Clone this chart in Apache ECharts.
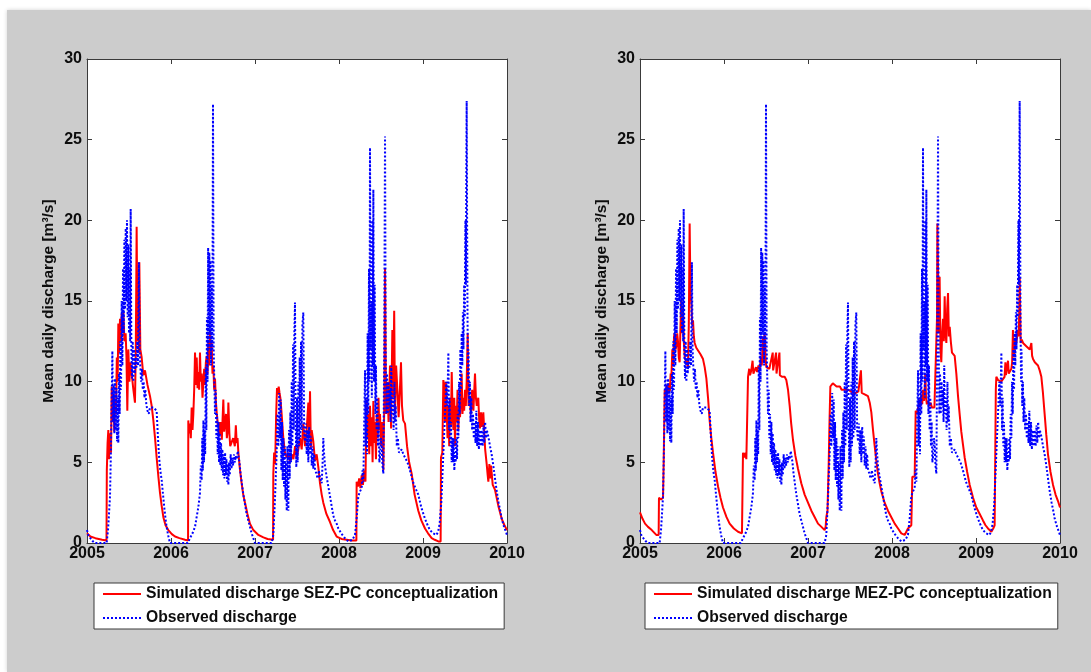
<!DOCTYPE html>
<html>
<head>
<meta charset="utf-8">
<script src="https://cdn.jsdelivr.net/npm/echarts@6/dist/echarts.min.js"></script>
<style>
html,body{margin:0;padding:0;background:#ffffff;width:1091px;height:672px;overflow:hidden;}
#bg{position:absolute;left:7px;top:10px;right:0;bottom:0;background:#cccccc;box-shadow:0 0 4px rgba(0,0,0,0.18);}
#chart{position:absolute;left:0;top:0;width:1091px;height:672px;}
</style>
</head>
<body>
<div id="bg"></div>
<div id="chart"></div>
<script>
// ---------- tick labels ----------
const yearTicks = [2005, 2006, 2007, 2008, 2009, 2010];
const dischargeTicks = [0, 5, 10, 15, 20, 25, 30];
const yAxisTitle = 'Mean daily discharge [m\u00b3/s]';
const nameSEZ = 'Simulated discharge SEZ-PC conceptualization';
const nameMEZ = 'Simulated discharge MEZ-PC conceptualization';
const nameObs = 'Observed discharge';

// ---------- observed discharge [decimal year, m3/s] ----------
const obs2005 = [[2005.000,0.8],[2005.015,0.5],[2005.040,0.3],[2005.070,0.1],[2005.095,0.0],[2005.150,0.0],[2005.234,0.0],[2005.250,0.8],[2005.262,1.8],[2005.274,2.9],[2005.284,5.5],[2005.294,9.0],[2005.302,11.9],[2005.310,7.5],[2005.318,9.8],[2005.326,6.8],[2005.334,10.2],[2005.342,7.0],[2005.350,9.6],[2005.358,6.3],[2005.366,9.0],[2005.373,6.2],[2005.381,10.5],[2005.389,8.0],[2005.397,12.5],[2005.405,9.5],[2005.413,15.0],[2005.421,11.0],[2005.429,17.0],[2005.437,13.0],[2005.445,18.8],[2005.453,14.5],[2005.461,19.5],[2005.469,15.0],[2005.476,20.0],[2005.484,14.0],[2005.492,18.5],[2005.500,13.0],[2005.508,17.0],[2005.514,12.5],[2005.520,20.7],[2005.528,12.0],[2005.536,10.2],[2005.544,12.5],[2005.552,10.0],[2005.560,12.0],[2005.568,10.5],[2005.578,11.5],[2005.588,10.8],[2005.598,12.5],[2005.608,11.0],[2005.618,17.4],[2005.626,12.0],[2005.634,11.0],[2005.644,10.0],[2005.654,10.8],[2005.664,9.5],[2005.674,10.0],[2005.684,9.0],[2005.694,9.5],[2005.706,8.6],[2005.720,8.2],[2005.735,8.0],[2005.750,8.4],[2005.770,8.5],[2005.790,8.4],[2005.810,8.5],[2005.829,8.2],[2005.845,6.5],[2005.860,5.2],[2005.875,4.4],[2005.889,3.9],[2005.905,3.0],[2005.920,2.2],[2005.935,1.5],[2005.948,1.0],[2005.965,0.5],[2005.988,0.0]];
const obs2006 = [[2006.100,0.0],[2006.200,0.0],[2006.226,0.3],[2006.256,0.6],[2006.286,1.0],[2006.305,1.6],[2006.325,2.2],[2006.345,3.1],[2006.355,4.8],[2006.365,3.9],[2006.372,6.5],[2006.379,4.5],[2006.386,7.6],[2006.393,5.0],[2006.400,7.0],[2006.407,5.5],[2006.414,10.9],[2006.421,7.0],[2006.428,14.0],[2006.435,10.0],[2006.442,18.3],[2006.449,12.0],[2006.456,18.0],[2006.463,13.0],[2006.470,17.5],[2006.477,11.0],[2006.485,16.0],[2006.492,12.0],[2006.500,27.2],[2006.508,12.0],[2006.516,10.0],[2006.524,8.0],[2006.532,9.5],[2006.540,6.5],[2006.548,8.0],[2006.556,5.5],[2006.564,7.5],[2006.572,5.0],[2006.580,6.8],[2006.588,4.8],[2006.596,6.2],[2006.604,4.5],[2006.612,5.8],[2006.620,4.2],[2006.628,5.5],[2006.636,4.0],[2006.644,5.6],[2006.652,4.2],[2006.660,5.2],[2006.668,3.8],[2006.676,4.9],[2006.683,3.6],[2006.692,5.0],[2006.700,4.2],[2006.710,5.5],[2006.720,4.6],[2006.730,5.3],[2006.740,4.8],[2006.750,5.5],[2006.760,5.0],[2006.770,5.4],[2006.782,5.2],[2006.795,5.7],[2006.802,5.8],[2006.815,5.0],[2006.828,4.3],[2006.841,3.8],[2006.861,3.0],[2006.881,2.4],[2006.900,1.8],[2006.920,1.4],[2006.940,1.0],[2006.960,0.6],[2006.980,0.3],[2007.000,0.0]];
const obs2007 = [[2007.100,0.0],[2007.198,0.0],[2007.218,0.5],[2007.238,2.7],[2007.250,4.5],[2007.258,5.5],[2007.268,8.0],[2007.278,6.0],[2007.288,9.3],[2007.298,6.5],[2007.306,8.9],[2007.314,4.5],[2007.322,7.5],[2007.330,3.9],[2007.338,6.5],[2007.346,3.5],[2007.354,6.0],[2007.362,2.7],[2007.370,5.0],[2007.378,2.0],[2007.386,6.0],[2007.397,2.0],[2007.405,7.0],[2007.413,4.0],[2007.421,8.1],[2007.429,5.0],[2007.437,10.0],[2007.445,6.0],[2007.453,12.3],[2007.461,7.0],[2007.468,13.0],[2007.476,14.9],[2007.484,8.0],[2007.492,4.7],[2007.500,9.0],[2007.508,5.0],[2007.516,10.0],[2007.524,6.0],[2007.532,11.5],[2007.540,6.5],[2007.548,12.5],[2007.556,7.0],[2007.564,13.5],[2007.575,14.3],[2007.585,7.0],[2007.595,6.3],[2007.605,7.4],[2007.615,5.5],[2007.625,7.0],[2007.635,5.0],[2007.645,7.2],[2007.655,5.5],[2007.665,6.6],[2007.675,4.8],[2007.685,6.0],[2007.694,4.6],[2007.704,5.5],[2007.714,4.6],[2007.730,4.3],[2007.745,4.0],[2007.760,4.5],[2007.775,4.0],[2007.794,3.7],[2007.805,5.0],[2007.813,6.5],[2007.823,5.5],[2007.833,4.8],[2007.853,4.1],[2007.873,3.5],[2007.893,2.9],[2007.912,2.3],[2007.932,1.7],[2007.952,1.4],[2007.972,1.2],[2007.992,0.9],[2008.012,0.8]];
const obs2008 = [[2008.040,0.5],[2008.071,0.3],[2008.111,0.1],[2008.131,0.0],[2008.160,0.2],[2008.190,0.5],[2008.210,1.5],[2008.230,2.9],[2008.250,3.2],[2008.270,3.4],[2008.280,4.5],[2008.290,3.8],[2008.300,7.5],[2008.310,10.7],[2008.318,6.0],[2008.325,9.0],[2008.333,5.5],[2008.341,13.0],[2008.349,8.0],[2008.357,17.0],[2008.363,10.0],[2008.369,24.5],[2008.377,12.0],[2008.385,15.0],[2008.391,9.0],[2008.397,20.0],[2008.403,11.0],[2008.409,21.9],[2008.417,10.0],[2008.425,16.0],[2008.433,8.0],[2008.440,11.0],[2008.448,7.0],[2008.456,9.0],[2008.464,6.0],[2008.472,7.5],[2008.480,5.0],[2008.488,5.3],[2008.500,6.5],[2008.508,6.0],[2008.518,4.8],[2008.528,4.3],[2008.538,12.0],[2008.548,25.2],[2008.556,12.0],[2008.564,8.0],[2008.572,10.5],[2008.580,8.0],[2008.590,10.0],[2008.598,8.5],[2008.606,9.5],[2008.614,7.5],[2008.622,11.0],[2008.630,8.0],[2008.640,9.0],[2008.650,7.0],[2008.660,10.0],[2008.668,7.5],[2008.675,8.5],[2008.688,6.0],[2008.700,6.5],[2008.714,5.6],[2008.730,5.7],[2008.746,5.8],[2008.766,5.5],[2008.786,5.5],[2008.815,5.0],[2008.845,4.5],[2008.880,3.8],[2008.910,3.4],[2008.944,3.0],[2008.980,2.2]];
const obs2009 = [[2009.024,1.5],[2009.055,1.1],[2009.083,0.8],[2009.120,0.6],[2009.159,0.5],[2009.180,0.7],[2009.198,1.2],[2009.218,2.5],[2009.238,5.0],[2009.258,7.5],[2009.278,10.0],[2009.290,8.5],[2009.302,11.8],[2009.310,7.0],[2009.317,9.0],[2009.325,6.0],[2009.333,7.5],[2009.341,5.0],[2009.350,6.5],[2009.357,5.0],[2009.365,6.5],[2009.373,4.5],[2009.381,5.5],[2009.389,5.0],[2009.397,6.5],[2009.405,5.2],[2009.413,8.0],[2009.421,6.5],[2009.429,10.0],[2009.437,8.0],[2009.445,12.0],[2009.453,9.5],[2009.460,13.0],[2009.468,11.0],[2009.475,14.3],[2009.482,12.0],[2009.490,16.0],[2009.497,14.0],[2009.505,20.0],[2009.510,16.0],[2009.515,22.0],[2009.520,27.4],[2009.525,20.0],[2009.530,14.0],[2009.536,10.0],[2009.542,12.0],[2009.550,8.5],[2009.558,10.0],[2009.566,7.5],[2009.575,9.0],[2009.585,7.0],[2009.595,8.0],[2009.605,6.5],[2009.615,7.5],[2009.625,6.2],[2009.635,8.2],[2009.645,6.0],[2009.655,7.5],[2009.665,5.8],[2009.675,7.0],[2009.685,6.0],[2009.698,7.0],[2009.710,6.0],[2009.720,7.3],[2009.730,6.2],[2009.740,7.5],[2009.750,6.5],[2009.760,7.0],[2009.778,6.6],[2009.798,6.0],[2009.817,5.5],[2009.837,4.8],[2009.857,4.0],[2009.878,3.2],[2009.900,2.5],[2009.920,2.0],[2009.937,1.5],[2009.965,1.0],[2010.000,0.5]];

// ---------- simulated discharge, SEZ-PC ----------
const sez2005 = [[2005.000,0.6],[2005.040,0.4],[2005.100,0.3],[2005.180,0.2],[2005.232,0.15],[2005.236,4.5],[2005.245,6.2],[2005.254,7.0],[2005.262,5.2],[2005.272,6.8],[2005.286,5.6],[2005.294,9.7],[2005.305,7.5],[2005.315,9.2],[2005.325,6.9],[2005.335,8.8],[2005.345,8.0],[2005.355,11.5],[2005.365,10.0],[2005.373,13.6],[2005.383,11.8],[2005.393,13.9],[2005.403,12.5],[2005.413,14.2],[2005.423,13.0],[2005.433,14.3],[2005.445,12.5],[2005.460,13.0],[2005.470,11.5],[2005.480,8.2],[2005.492,12.0],[2005.505,10.0],[2005.518,11.2],[2005.532,10.5],[2005.550,9.6],[2005.571,8.7],[2005.581,12.0],[2005.591,19.6],[2005.601,12.5],[2005.611,14.0],[2005.617,11.8],[2005.623,17.4],[2005.635,12.0],[2005.651,11.5],[2005.670,10.4],[2005.690,10.7],[2005.720,9.8],[2005.750,9.1],[2005.770,8.5],[2005.790,7.6],[2005.810,6.5],[2005.829,5.3],[2005.850,4.1],[2005.869,3.1],[2005.889,2.3],[2005.909,1.6],[2005.935,1.1],[2005.968,0.8],[2006.010,0.55],[2006.048,0.4],[2006.100,0.3],[2006.167,0.2],[2006.203,0.15]];
const sez2006 = [[2006.206,7.6],[2006.216,6.8],[2006.226,7.4],[2006.236,6.5],[2006.246,8.4],[2006.256,7.0],[2006.266,8.0],[2006.276,9.5],[2006.286,11.8],[2006.296,9.8],[2006.306,11.5],[2006.316,9.6],[2006.325,10.6],[2006.335,9.5],[2006.345,11.8],[2006.355,10.0],[2006.365,10.5],[2006.375,9.0],[2006.385,9.1],[2006.395,10.8],[2006.405,9.8],[2006.415,11.2],[2006.425,11.6],[2006.435,10.5],[2006.445,12.5],[2006.455,11.0],[2006.464,13.2],[2006.474,11.5],[2006.484,12.5],[2006.494,10.5],[2006.504,11.0],[2006.514,9.5],[2006.524,10.2],[2006.534,8.8],[2006.544,8.1],[2006.560,7.2],[2006.575,7.5],[2006.583,6.7],[2006.595,7.5],[2006.605,6.4],[2006.615,7.8],[2006.623,8.9],[2006.633,6.9],[2006.643,6.9],[2006.655,8.0],[2006.665,6.5],[2006.675,7.0],[2006.683,8.7],[2006.695,6.8],[2006.705,6.0],[2006.722,6.1],[2006.740,6.5],[2006.760,6.0],[2006.772,7.3],[2006.782,6.2],[2006.792,6.5],[2006.802,5.6],[2006.820,4.6],[2006.841,3.7],[2006.860,3.0],[2006.881,2.5],[2006.910,1.8],[2006.940,1.2],[2006.980,0.8],[2007.040,0.5],[2007.100,0.35],[2007.150,0.25],[2007.215,0.2]];
const sez2007 = [[2007.218,4.3],[2007.228,5.6],[2007.240,4.9],[2007.252,8.0],[2007.262,9.6],[2007.272,9.2],[2007.282,9.7],[2007.292,9.3],[2007.302,9.0],[2007.317,8.0],[2007.337,6.5],[2007.357,5.6],[2007.377,5.3],[2007.397,5.6],[2007.417,5.0],[2007.437,5.5],[2007.457,5.2],[2007.477,6.0],[2007.497,5.3],[2007.516,5.8],[2007.536,6.5],[2007.556,5.8],[2007.575,7.4],[2007.595,6.0],[2007.615,7.0],[2007.635,8.7],[2007.645,6.5],[2007.655,9.4],[2007.665,5.9],[2007.675,7.0],[2007.694,6.3],[2007.714,5.1],[2007.734,5.5],[2007.754,4.7],[2007.774,3.7],[2007.794,3.0],[2007.813,2.5],[2007.850,1.8],[2007.893,1.3],[2007.930,0.8],[2007.972,0.4],[2008.030,0.25],[2008.092,0.2],[2008.150,0.15],[2008.207,0.15]];
const sez2008 = [[2008.210,3.8],[2008.225,3.5],[2008.240,4.0],[2008.255,3.4],[2008.270,4.2],[2008.285,3.6],[2008.300,4.5],[2008.315,3.8],[2008.329,8.9],[2008.340,6.5],[2008.350,8.0],[2008.360,5.5],[2008.369,8.5],[2008.380,6.0],[2008.390,7.8],[2008.400,5.0],[2008.409,8.8],[2008.420,6.2],[2008.430,7.5],[2008.440,5.2],[2008.450,8.0],[2008.460,6.5],[2008.470,9.0],[2008.480,7.0],[2008.488,8.0],[2008.500,6.0],[2008.515,7.5],[2008.528,4.5],[2008.540,9.0],[2008.548,17.0],[2008.560,8.0],[2008.575,10.0],[2008.590,7.5],[2008.607,11.0],[2008.620,7.1],[2008.635,13.2],[2008.645,9.0],[2008.657,14.4],[2008.667,8.0],[2008.680,11.0],[2008.695,9.5],[2008.710,7.8],[2008.725,9.5],[2008.738,11.2],[2008.750,8.5],[2008.765,7.6],[2008.786,7.4],[2008.810,6.0],[2008.835,5.0],[2008.865,4.3],[2008.900,3.0],[2008.944,2.0],[2008.980,1.4],[2009.024,0.9],[2009.060,0.6],[2009.103,0.3],[2009.140,0.2],[2009.183,0.1],[2009.210,0.1]];
const sez2009 = [[2009.214,5.3],[2009.230,5.6],[2009.242,10.1],[2009.252,9.8],[2009.262,7.5],[2009.272,10.0],[2009.282,8.2],[2009.292,6.5],[2009.302,8.5],[2009.312,6.0],[2009.322,9.0],[2009.332,7.2],[2009.342,10.6],[2009.352,8.0],[2009.362,7.0],[2009.372,9.0],[2009.381,6.0],[2009.391,8.5],[2009.401,7.5],[2009.411,9.5],[2009.421,7.0],[2009.431,8.5],[2009.441,7.8],[2009.451,9.2],[2009.460,10.5],[2009.470,8.0],[2009.480,9.0],[2009.490,8.2],[2009.500,9.5],[2009.510,8.5],[2009.520,10.0],[2009.532,13.0],[2009.542,8.5],[2009.555,9.0],[2009.570,8.0],[2009.585,9.5],[2009.600,8.2],[2009.619,10.5],[2009.630,9.0],[2009.640,8.5],[2009.658,9.0],[2009.670,7.5],[2009.678,7.1],[2009.690,8.1],[2009.700,7.2],[2009.718,8.1],[2009.740,5.8],[2009.758,4.9],[2009.770,4.2],[2009.778,3.8],[2009.790,4.9],[2009.800,4.0],[2009.810,4.8],[2009.830,3.6],[2009.857,3.3],[2009.897,2.3],[2009.937,1.5],[2009.970,1.1],[2010.000,0.8]];

// ---------- simulated discharge, MEZ-PC ----------
const mez2005 = [[2005.000,1.9],[2005.030,1.5],[2005.060,1.2],[2005.095,1.0],[2005.140,0.8],[2005.194,0.5],[2005.222,0.5],[2005.226,2.8],[2005.250,2.7],[2005.274,2.8],[2005.282,5.0],[2005.294,9.5],[2005.305,9.0],[2005.315,9.8],[2005.325,9.2],[2005.333,9.3],[2005.345,9.9],[2005.355,9.4],[2005.365,10.5],[2005.373,10.2],[2005.385,12.0],[2005.395,11.0],[2005.405,12.8],[2005.413,13.0],[2005.423,12.0],[2005.433,12.2],[2005.443,13.0],[2005.452,12.5],[2005.462,11.5],[2005.472,11.2],[2005.482,13.5],[2005.492,15.1],[2005.502,13.0],[2005.512,14.5],[2005.522,12.5],[2005.532,11.5],[2005.552,11.2],[2005.571,10.9],[2005.581,13.5],[2005.591,19.8],[2005.601,15.5],[2005.611,14.8],[2005.621,13.5],[2005.631,13.8],[2005.641,12.8],[2005.651,12.4],[2005.670,12.1],[2005.690,12.0],[2005.720,11.7],[2005.750,11.4],[2005.770,10.9],[2005.790,10.2],[2005.810,9.0],[2005.829,7.6],[2005.849,6.5],[2005.869,5.6],[2005.899,4.4],[2005.929,3.5],[2005.958,2.8],[2005.988,2.2],[2006.030,1.6],[2006.067,1.2],[2006.117,0.9],[2006.167,0.7],[2006.214,0.6]];
const mez2006 = [[2006.226,5.6],[2006.240,5.3],[2006.255,5.6],[2006.266,5.2],[2006.286,10.3],[2006.300,10.8],[2006.310,10.4],[2006.325,10.7],[2006.340,11.3],[2006.350,10.5],[2006.365,10.5],[2006.380,10.9],[2006.395,10.6],[2006.410,11.0],[2006.425,10.8],[2006.440,11.5],[2006.450,11.0],[2006.464,12.8],[2006.474,11.2],[2006.484,13.0],[2006.494,11.5],[2006.504,10.9],[2006.520,11.0],[2006.540,10.8],[2006.563,10.8],[2006.580,11.8],[2006.585,10.7],[2006.600,10.6],[2006.620,11.8],[2006.625,10.5],[2006.643,10.5],[2006.660,11.8],[2006.665,10.4],[2006.690,10.3],[2006.722,10.3],[2006.742,10.1],[2006.762,9.5],[2006.782,8.5],[2006.800,7.4],[2006.821,6.4],[2006.850,5.4],[2006.881,4.6],[2006.920,3.7],[2006.960,3.0],[2007.000,2.5],[2007.040,2.0],[2007.080,1.6],[2007.119,1.2],[2007.160,1.0],[2007.198,0.8],[2007.210,1.0],[2007.218,1.6],[2007.232,2.0]];
const mez2007 = [[2007.246,4.8],[2007.256,7.5],[2007.266,9.7],[2007.280,9.6],[2007.295,9.9],[2007.317,9.9],[2007.340,9.7],[2007.360,9.6],[2007.380,9.7],[2007.400,9.5],[2007.437,9.5],[2007.476,9.5],[2007.510,9.4],[2007.540,9.3],[2007.570,9.3],[2007.600,9.4],[2007.620,9.3],[2007.630,10.7],[2007.640,9.3],[2007.680,9.2],[2007.714,9.1],[2007.735,8.7],[2007.754,8.1],[2007.774,7.0],[2007.794,6.0],[2007.813,5.1],[2007.833,4.3],[2007.853,3.7],[2007.873,3.2],[2007.912,2.5],[2007.952,2.0],[2007.992,1.6],[2008.032,1.2],[2008.072,0.9],[2008.111,0.6],[2008.151,0.5],[2008.170,0.6],[2008.190,0.9],[2008.230,1.1],[2008.238,1.1]];
const mez2008 = [[2008.242,4.1],[2008.270,4.1],[2008.278,4.2],[2008.282,8.2],[2008.296,8.0],[2008.310,8.1],[2008.320,8.6],[2008.329,8.9],[2008.340,8.5],[2008.350,9.2],[2008.360,8.6],[2008.369,9.5],[2008.380,8.8],[2008.390,9.6],[2008.397,10.5],[2008.405,9.0],[2008.415,8.6],[2008.429,8.8],[2008.445,8.5],[2008.460,8.7],[2008.475,8.4],[2008.488,8.5],[2008.505,8.4],[2008.528,8.3],[2008.536,14.0],[2008.540,19.8],[2008.548,17.0],[2008.556,13.0],[2008.567,16.5],[2008.577,12.0],[2008.587,11.2],[2008.597,13.0],[2008.607,13.9],[2008.617,12.5],[2008.627,15.3],[2008.637,13.0],[2008.647,12.4],[2008.657,14.5],[2008.667,15.5],[2008.677,12.8],[2008.687,13.4],[2008.700,12.5],[2008.714,11.8],[2008.730,11.9],[2008.746,11.6],[2008.766,10.5],[2008.786,9.1],[2008.805,8.0],[2008.825,6.9],[2008.845,6.1],[2008.865,5.3],[2008.895,4.4],[2008.925,3.6],[2008.965,2.8],[2009.004,2.2],[2009.044,1.8],[2009.083,1.4],[2009.113,1.1],[2009.143,0.9],[2009.183,0.7],[2009.205,0.9],[2009.222,1.1]];
const mez2009 = [[2009.236,9.5],[2009.242,10.3],[2009.262,10.1],[2009.282,10.1],[2009.300,10.0],[2009.321,10.0],[2009.340,10.3],[2009.350,11.2],[2009.356,10.4],[2009.361,10.5],[2009.381,11.3],[2009.390,10.5],[2009.401,10.5],[2009.421,10.8],[2009.430,11.2],[2009.440,13.2],[2009.450,11.5],[2009.460,12.0],[2009.470,12.6],[2009.480,12.4],[2009.490,12.8],[2009.500,13.2],[2009.510,12.8],[2009.520,16.5],[2009.532,12.4],[2009.545,12.6],[2009.560,12.4],[2009.580,12.3],[2009.599,12.2],[2009.620,12.3],[2009.640,12.0],[2009.659,12.4],[2009.668,11.6],[2009.679,11.4],[2009.700,11.2],[2009.720,11.1],[2009.738,11.0],[2009.758,10.7],[2009.778,10.3],[2009.797,9.3],[2009.817,8.0],[2009.837,6.7],[2009.857,5.5],[2009.887,4.4],[2009.917,3.6],[2009.947,3.0],[2009.976,2.6],[2010.000,2.2]];

const observed = [].concat(obs2005, obs2006, obs2007, obs2008, obs2009);
const simulatedSEZ = [].concat(sez2005, sez2006, sez2007, sez2008, sez2009);
const simulatedMEZ = [].concat(mez2005, mez2006, mez2007, mez2008, mez2009);

// ---------- styling ----------
const FONT = '"Liberation Sans", Arial, Helvetica, sans-serif';
const INK = '#0d0d0d';
const BOX = '#3a3a3a';
const grids = [
  {left: 87, top: 59, width: 420, height: 484},
  {left: 640, top: 59, width: 420, height: 484}
];

function xAx(gi, pos) {
  const main = pos === 'bottom';
  return {
    type: 'value', gridIndex: gi, position: pos,
    min: yearTicks[0], max: yearTicks[yearTicks.length - 1], interval: 1,
    axisLine: {show: true, onZero: false, lineStyle: {color: BOX, width: 1}},
    axisTick: {show: true, inside: true, length: 5, lineStyle: {color: BOX, width: 1}},
    splitLine: {show: false},
    axisLabel: {
      show: main, margin: 3, color: INK, fontFamily: FONT, fontWeight: 'bold', fontSize: 16,
      formatter: v => (yearTicks.indexOf(v) >= 0 ? String(v) : '')
    }
  };
}
function yAx(gi, pos) {
  const main = pos === 'left';
  return {
    type: 'value', gridIndex: gi, position: pos,
    min: dischargeTicks[0], max: dischargeTicks[dischargeTicks.length - 1], interval: 5,
    name: main ? yAxisTitle : '', nameLocation: 'middle', nameGap: 30,
    nameTextStyle: {color: INK, fontFamily: FONT, fontWeight: 'bold', fontSize: 15.5},
    axisLine: {show: true, onZero: false, lineStyle: {color: BOX, width: 1}},
    axisTick: {show: true, inside: true, length: 5, lineStyle: {color: BOX, width: 1}},
    splitLine: {show: false},
    axisLabel: {
      show: main, margin: 5, color: INK, fontFamily: FONT, fontWeight: 'bold', fontSize: 16,
      formatter: v => (dischargeTicks.indexOf(v) >= 0 ? String(v) : '')
    }
  };
}
function legendAt(left, names) {
  return {
    left: left, top: 583, orient: 'vertical', selectedMode: false,
    itemWidth: 38, itemHeight: 14, itemGap: 6,
    padding: [2, 6, 2, 8],
    backgroundColor: '#ffffff', borderColor: BOX, borderWidth: 1,
    itemStyle: {opacity: 0, borderWidth: 0},
    textStyle: {color: INK, fontFamily: FONT, fontWeight: 'bold', fontSize: 15.7, lineHeight: 18},
    data: names
  };
}
const redStyle = {color: '#ff0000', width: 2, type: 'solid'};
const blueStyle = {color: '#0000ff', width: 2, type: [2, 2], cap: 'butt'};

const chart = echarts.init(document.getElementById('chart'), null, {renderer: 'canvas'});
chart.setOption({
  animation: false,
  backgroundColor: 'transparent',
  grid: grids.map(g => Object.assign({backgroundColor: '#ffffff', show: true, borderWidth: 0}, g)),
  xAxis: [xAx(0, 'bottom'), xAx(0, 'top'), xAx(1, 'bottom'), xAx(1, 'top')],
  yAxis: [yAx(0, 'left'), yAx(0, 'right'), yAx(1, 'left'), yAx(1, 'right')],
  legend: [legendAt(94, [nameSEZ, nameObs]), legendAt(645, [nameMEZ, nameObs])],
  series: [
    {name: nameSEZ, type: 'line', xAxisIndex: 0, yAxisIndex: 0, data: simulatedSEZ,
     showSymbol: false, symbol: 'none', lineStyle: redStyle, itemStyle: {color: '#ff0000'}, z: 2},
    {name: nameObs, type: 'line', xAxisIndex: 0, yAxisIndex: 0, data: observed,
     showSymbol: false, symbol: 'none', lineStyle: blueStyle, itemStyle: {color: '#0000ff'}, z: 3},
    {name: nameMEZ, type: 'line', xAxisIndex: 2, yAxisIndex: 2, data: simulatedMEZ,
     showSymbol: false, symbol: 'none', lineStyle: redStyle, itemStyle: {color: '#ff0000'}, z: 2},
    {name: nameObs, type: 'line', xAxisIndex: 2, yAxisIndex: 2, data: observed,
     showSymbol: false, symbol: 'none', lineStyle: blueStyle, itemStyle: {color: '#0000ff'}, z: 3}
  ]
});
</script>
</body>
</html>
